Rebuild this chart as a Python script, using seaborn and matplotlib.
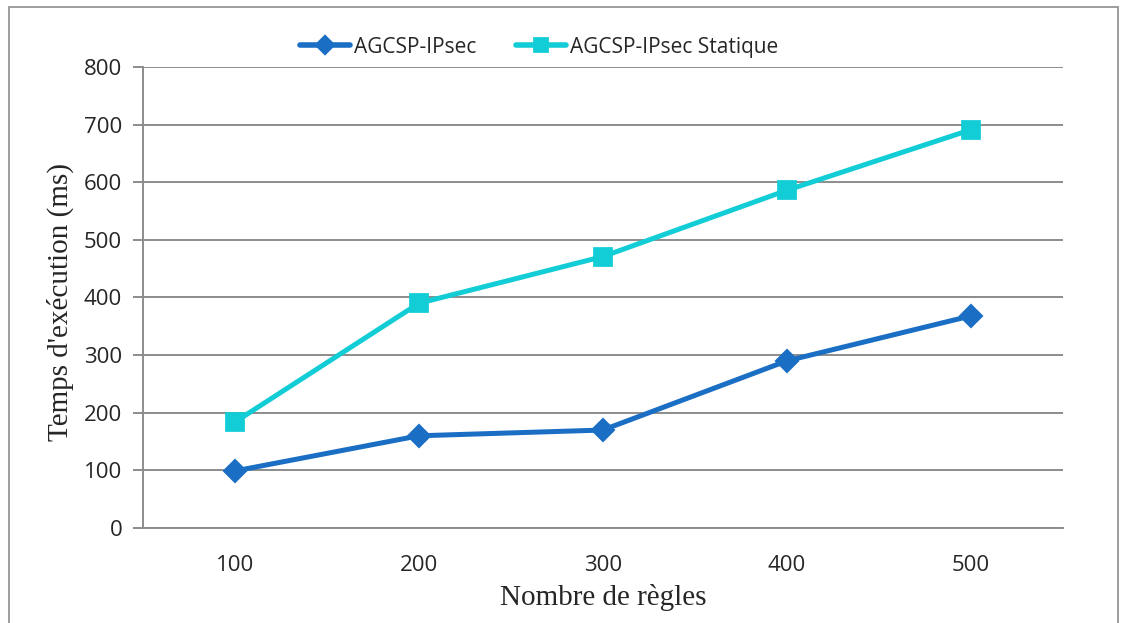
import pandas as pd
import matplotlib
matplotlib.use("Agg")
import matplotlib.pyplot as plt
import seaborn as sns

# values
regles = ["100", "200", "300", "400", "500"]
agcsp = [99, 160, 170, 290, 368]
agcsp_statique = [184, 390, 471, 586, 691]
series_names = ["AGCSP-IPsec", "AGCSP-IPsec Statique"]

df = pd.DataFrame({
    "regles": regles * 2,
    "temps": agcsp + agcsp_statique,
    "serie": [series_names[0]] * 5 + [series_names[1]] * 5,
})

sns.set_style("white")
tick_font = "Open Sans"
label_font = "Liberation Serif"

fig = plt.figure(figsize=(11.21, 6.23), dpi=100)
ax = fig.add_axes([0.1276, 0.1525, 0.8204, 0.74])

palette = {series_names[0]: "#1a6ec4", series_names[1]: "#12cdd6"}
sns.pointplot(data=df, x="regles", y="temps", hue="serie", order=regles,
              hue_order=series_names, palette=palette, markers=["D", "s"],
              markersize=11, linewidth=3.6, ax=ax)

# marker edges like the original
for line, edge in zip(ax.lines, ["#1a6ec4", "#7fe3e8"]):
    line.set_markeredgecolor(edge)
    line.set_markeredgewidth(1.5)

ax.set_xlim(-0.5, 4.5)
ax.set_ylim(0, 800)
ax.set_yticks(range(0, 801, 100))
ax.yaxis.grid(True, color="#8c8c8c", linewidth=1.4)
ax.set_axisbelow(True)

for s in ["top", "right"]:
    ax.spines[s].set_visible(False)
ax.spines["left"].set_color("#8c8c8c")
ax.spines["bottom"].set_color("#8c8c8c")
ax.spines["left"].set_linewidth(1.4)
ax.spines["bottom"].set_linewidth(1.4)

ax.tick_params(axis="y", left=True, length=7, width=1.4, color="#8c8c8c", pad=8)
ax.tick_params(axis="x", bottom=False, pad=16)
for lab in ax.get_xticklabels() + ax.get_yticklabels():
    lab.set_fontfamily(tick_font)
    lab.set_fontsize(16)

ax.set_xlabel("Nombre de règles", fontfamily=label_font, fontsize=21, labelpad=6)
ax.set_ylabel("Temps d'exécution (ms)", fontfamily=label_font, fontsize=21)
ax.yaxis.set_label_coords(-0.075, 0.49)

leg = ax.legend(loc="center", bbox_to_anchor=(0.431, 1.043), ncol=2, frameon=False,
                prop={"family": tick_font, "size": 15}, handlelength=2.4,
                columnspacing=1.9, handletextpad=0.2, borderaxespad=0)
for h in leg.legend_handles:
    h.set_linewidth(4)
    h.set_markersize(8)

# thin grey frame around the whole picture
fig.add_artist(plt.Rectangle((0.008, -0.01), 0.989, 0.999, transform=fig.transFigure,
                             fill=False, edgecolor="#8c8c8c", linewidth=1.2))

fig.savefig("out.png", dpi=100)
